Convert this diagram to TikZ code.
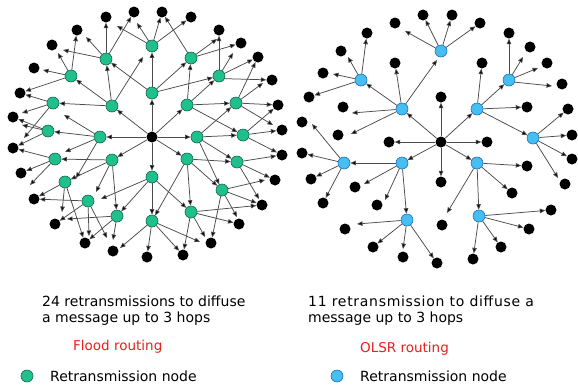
\documentclass[tikz,border=0pt]{standalone}
\usepackage{fontspec}
\setmainfont{DejaVu Sans}
\usetikzlibrary{arrows.meta}
\pgfdeclarelayer{paper}
\pgfdeclarelayer{edges}
\pgfsetlayers{paper,edges,main}
\definecolor{floodgreen}{RGB}{32,192,140}
\definecolor{floodrim}{RGB}{20,100,75}
\definecolor{olsrblue}{RGB}{70,190,240}
\definecolor{olsrrim}{RGB}{30,110,190}
\definecolor{linkgray}{RGB}{75,75,75}
\definecolor{captionred}{RGB}{235,30,30}
\begin{document}
\begin{tikzpicture}[x=1pt,y=-1pt,
  host/.style={circle,fill=black,inner sep=0pt,minimum size=11pt},
  relayg/.style={circle,fill=floodgreen,draw=floodrim,line width=0.6pt,inner sep=0pt,minimum size=12pt},
  relayb/.style={circle,fill=olsrblue,draw=olsrrim,line width=0.6pt,inner sep=0pt,minimum size=12pt},
  link/.style={draw=linkgray,line width=0.75pt,-{Triangle[length=5.5pt,width=4.5pt,fill=black]}},
  caption/.style={anchor=base west,inner sep=0pt,font=\fontsize{14}{16}\selectfont},
  redcap/.style={caption,text=captionred,font=\fontsize{13.5}{16}\selectfont},
]
\begin{pgfonlayer}{paper}
  \fill[white] (0,0) rectangle (578,384);
\end{pgfonlayer}

% ---------------- Flood routing network ----------------
\node[host] (C) at (152,137) {};
\foreach \n/\x/\y in {gN/152/93, gNE/187/105, gE/197/137, gSE/187/159, gS/152/177,
  gSW/112/160, gW/100/137, gNW/112/106,
  a1/152/46, a2/191/58, a3/219/76, a4/236/103, a5/243/135, a6/237/162, a7/222/190,
  a8/191/212, a9/152/221, a10/117/216, a11/88/201, a12/65/182, a13/55/159,
  a14/48/131, a15/53/103, a16/71/76, a17/106/59}
  \node[relayg] (\n) at (\x,\y) {};
\foreach \n/\x/\y in {k1/106/17, k2/134/12, k3/162/12, k4/191/17, k5/77/30, k6/219/30,
  k7/52/45, k8/241/43, k9/34/68, k10/258/57, k11/20/93, k12/272/80, k13/13/117,
  k14/278/105, k15/13/148, k16/282/130, k17/21/173, k18/282/155, k19/34/199,
  k20/275/180, k21/55/224, k22/262/205, k23/85/243, k24/239/224, k25/113/251,
  k26/211/243, k27/147/257, k28/183/255}
  \node[host] (\n) at (\x,\y) {};
% free arrow ends
\foreach \n/\x/\y in {fa/143/57, fb/101/199, fc/96/192, fd/76/178, fe/65/152, ff/64/115,
  fh/117/26, fi/137/23, fj/217/39, fk/233/53, fl/263/83, fm/273/125, fo/259/199,
  fp/265/180, fq/237/217, fr/205/237, fs/200/242, ft/120/248, fu/67/219, fv/113/240,
  fw/89/236, fx/107/238, fy/62/212, fz/30/185, g1/22/125, g2/22/113, g3/24/138,
  g4/58/53, g5/43/70, g6/86/37, g7/63/50}
  \coordinate (\n) at (\x,\y);

\begin{pgfonlayer}{edges}
\foreach \s/\t in {C/gN, C/gNE, C/gE, C/gSE, C/gS, C/gSW, C/gW, C/gNW,
  gN/a1, gN/a17, gN/a2, gN/a3,
  gNE/a2, gNE/a3, gNE/a4, gNE/a5,
  gE/a4, gE/a5, gE/a6, gE/a7,
  gSE/a6, gSE/a7, gSE/a8, gSE/a9,
  gS/a8, gS/a9, gS/a10, gS/fb,
  gSW/a13, gSW/a12, gSW/fc, gSW/a10,
  gW/a14, gW/fe, gW/ff, gW/fd,
  gNW/a17, gNW/fa, gNW/a16, gNW/a15,
  a1/fh, a1/fi, a1/k3, a1/k4,
  a2/k3, a2/fj, a2/k8,
  a3/k6, a3/k10, a3/fk,
  a4/k10, a4/fl, a4/k14, a4/fm,
  a5/k14, a5/k16, a5/k18,
  a6/k18, a6/k20, a6/fo,
  a7/fp, a7/k22, a7/fq, a7/k26,
  a8/k22, a8/k24, a8/fr, a8/k28,
  a9/k28, a9/fs, a9/k27, a9/ft,
  a10/fu, a10/k23, a10/fv,
  a11/k19, a11/k21, a11/fw, a11/fx,
  a12/fy, a12/k23, a12/k19,
  a13/k17, a13/fz, a13/k15,
  a14/k15, a14/k13, a14/g1,
  a15/k11, a15/g2, a15/g3,
  a16/k5, a16/g4, a16/g5, a16/k11,
  a17/k1, a17/k2, a17/g6, a17/g7}
  \draw[link] (\s) -- (\t);
\draw[link] (a3.-25) -- (k12);
\end{pgfonlayer}

% ---------------- OLSR routing network ----------------
\node[host] (rc) at (441,142) {};
\foreach \n/\x/\y in {b1/441/51, b2/361/80, b3/402/109, b4/477/109, b5/509/80,
  b6/533/138, b7/477/163, b8/402/163, b9/344/163, b10/407/220, b11/479/216}
  \node[relayb] (\n) at (\x,\y) {};
\foreach \n/\x/\y in {r1/395/23, r2/423/15, r3/452/15, r4/480/23, r5/367/33, r6/341/51,
  r7/323/73, r8/309/97, r9/395/63, r10/441/97, r11/482/63, r12/509/33, r13/530/47,
  r14/547/63, r15/562/84, r16/527/107, r17/568/109, r18/572/135, r19/572/159,
  r20/565/184, r21/343/107, r22/338/135, r23/389/142, r24/487/142, r25/441/182,
  r26/302/122, r27/302/153, r28/311/179, r29/323/203, r30/355/187, r31/377/205,
  r32/527/166, r33/512/193, r34/442/225, r35/551/210, r36/529/229, r37/501/247,
  r38/473/259, r39/437/263, r40/403/257, r41/373/247, r42/345/229}
  \node[host] (\n) at (\x,\y) {};
\foreach \n/\x/\y in {h1/437/60, h2/352/113, h3/351/134, h4/348/57, h5/333/74,
  h6/405/31, h7/523/57, h8/538/68, h9/552/86, h10/558/178, h11/447/213,
  h12/364/184, h13/385/200, h14/312/124, h15/357/224, h16/403/249}
  \coordinate (\n) at (\x,\y);

\begin{pgfonlayer}{edges}
\foreach \s/\t in {rc/b3, rc/b4, rc/b7, rc/b8, rc/r10, rc/r23, rc/r24, rc/r25,
  b1/h6, b1/r2, b1/r3, b1/r4,
  b2/r5, b2/h4, b2/h5, b2/r8,
  b3/b2, b3/r9, b3/h1, b3/h2, b3/h3,
  b4/b5, b4/r11, b4/r16, b4/b6,
  b5/r12, b5/h7, b5/h8,
  b6/r17, b6/r18, b6/r19, b6/h10,
  b7/r32, b7/r33, b7/b11, b7/h11,
  b8/b9, b8/b10, b8/h12, b8/h13,
  b9/h14, b9/r27, b9/r28, b9/r29,
  b10/h15, b10/r41, b10/h16, b10/r39,
  b11/r35, b11/r36, b11/r37, b11/r38}
  \draw[link] (\s) -- (\t);
\draw[link] (b5.-20) -- (h9);
\end{pgfonlayer}

% ---------------- captions ----------------
\node[caption] (l1) at (42,306) {24 retransmissions to diffuse};
\node[caption] (l2) at (42,322) {a message up to 3 hops};
\node[redcap] (l3) at (73,350) {Flood routing};
\node[relayg,minimum size=12pt] (lg) at (27,376) {};
\node[caption] (l4) at (50,381) {Retransmission node};

\node[caption] (m1) at (308,306) {\addfontfeature{LetterSpace=5}11 retransmission to diffuse a};
\node[caption] (m2) at (308,322) {message up to 3 hops};
\node[redcap] (m3) at (360,352) {OLSR routing};
\node[relayb,minimum size=12pt] (mb) at (337,376) {};
\node[caption] (m4) at (360,381) {Retransmission node};
\end{tikzpicture}
\end{document}
